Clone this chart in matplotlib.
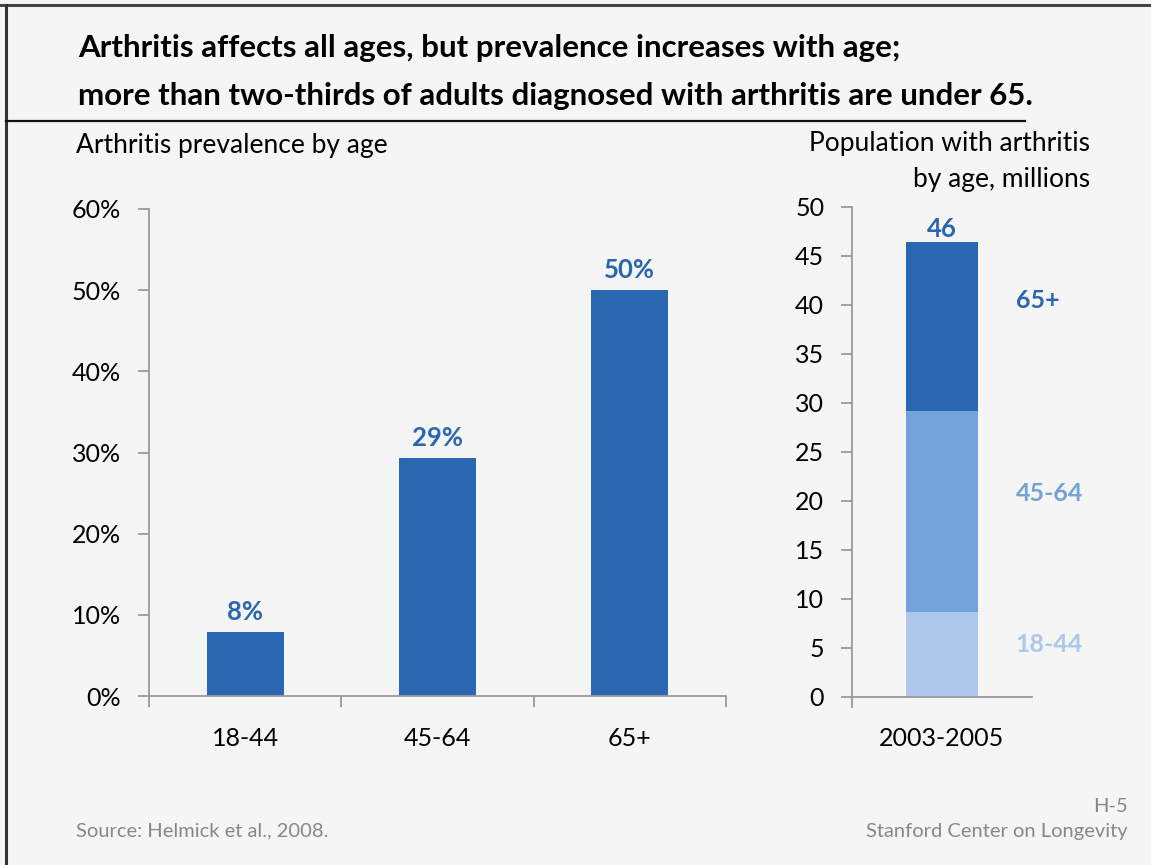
import matplotlib.pyplot as plt
from matplotlib.lines import Line2D

# prevalence by age group (left panel)
ages = ["18-44", "45-64", "65+"]
prevalence = [7.9, 29.3, 50.0]
prevalence_labels = ["8%", "29%", "50%"]

# population with arthritis, millions (right panel)
period = ["2003-2005"]
pop_18_44 = [8.6]
pop_45_64 = [20.6]
pop_65 = [17.2]
pop_total_label = "46"

BG = "#f5f5f5"
DARK = "#2b67b0"
MID = "#74a2da"
LIGHT = "#adc7eb"
AXIS = "#9a9a9a"
FOOT = "#888888"

plt.rcParams["font.family"] = ["Lato", "DejaVu Sans"]

fig = plt.figure(figsize=(11.51, 8.65), dpi=100, facecolor=BG)

# slide frame: top and left borders, title underline
fig.add_artist(Line2D([0, 1], [1 - 5 / 865] * 2, color="#444444", lw=2.2, transform=fig.transFigure))
fig.add_artist(Line2D([6 / 1151] * 2, [0, 1 - 5 / 865], color="#333333", lw=2.2, transform=fig.transFigure))
fig.add_artist(Line2D([6 / 1151, 1025 / 1151], [1 - 121 / 865] * 2, color="#111111", lw=1.6, transform=fig.transFigure))

fig.text(78 / 1151, 1 - 48 / 865, "Arthritis affects all ages, but prevalence increases with age;",
         fontsize=22.5, fontweight="bold", va="center", ha="left")
fig.text(78 / 1151, 1 - 96 / 865, "more than two-thirds of adults diagnosed with arthritis are under 65.",
         fontsize=22.5, fontweight="bold", va="center", ha="left")

fig.text(76 / 1151, 1 - 146 / 865, "Arthritis prevalence by age", fontsize=19, va="center", ha="left")
fig.text(1090 / 1151, 1 - 143 / 865, "Population with arthritis", fontsize=19, va="center", ha="right")
fig.text(1090 / 1151, 1 - 180 / 865, "by age, millions", fontsize=19, va="center", ha="right")

fig.text(76 / 1151, 1 - 831 / 865, "Source: Helmick et al., 2008.", fontsize=14.5, color=FOOT, va="center", ha="left")
fig.text(1128 / 1151, 1 - 806 / 865, "H-5", fontsize=14.5, color=FOOT, va="center", ha="right")
fig.text(1128 / 1151, 1 - 831 / 865, "Stanford Center on Longevity", fontsize=14.5, color=FOOT, va="center", ha="right")


def style_axis(ax):
    ax.set_facecolor(BG)
    for s in ["top", "right"]:
        ax.spines[s].set_visible(False)
    for s in ["left", "bottom"]:
        ax.spines[s].set_color(AXIS)
        ax.spines[s].set_linewidth(1.3)
    ax.tick_params(axis="both", colors=AXIS, width=1.3, length=8, labelsize=18, labelcolor="black")
    ax.tick_params(axis="y", pad=12)
    ax.tick_params(axis="x", pad=14)


# left panel
ax1 = fig.add_axes([149 / 1151, 1 - 696 / 865, 577 / 1151, 487 / 865])
style_axis(ax1)
x = range(len(ages))
ax1.bar(x, prevalence, width=0.4, color=DARK)
ax1.set_xlim(-0.5, len(ages) - 0.5)
ax1.set_ylim(0, 60)
ax1.set_yticks(range(0, 61, 10))
ax1.set_yticklabels([f"{v}%" for v in range(0, 61, 10)])
ax1.set_xticks([i - 0.5 for i in range(len(ages) + 1)])
ax1.set_xticklabels([])
ax1.set_xticks(list(x), minor=True)
ax1.set_xticklabels(ages, minor=True)
ax1.tick_params(axis="x", which="minor", length=0, labelsize=18, pad=22)
for i, v in enumerate(prevalence):
    ax1.annotate(prevalence_labels[i], (i, v), xytext=(0, 6), textcoords="offset points",
                 ha="center", va="bottom", fontsize=18.5, fontweight="bold", color=DARK)

# right panel
ax2 = fig.add_axes([852 / 1151, 1 - 696.5 / 865, 180 / 1151, 489.5 / 865])
style_axis(ax2)
ax2.bar(0, pop_18_44, width=0.4, color=LIGHT)
ax2.bar(0, pop_45_64, width=0.4, bottom=pop_18_44, color=MID)
top = [a + b for a, b in zip(pop_18_44, pop_45_64)]
ax2.bar(0, pop_65, width=0.4, bottom=top, color=DARK)
total = top[0] + pop_65[0]
ax2.annotate(pop_total_label, (0, total), xytext=(0, 1), textcoords="offset points",
             ha="center", va="bottom", fontsize=18.5, fontweight="bold", color=DARK)
ax2.set_xlim(-0.5, 0.5)
ax2.set_ylim(0, 50)
ax2.set_yticks(range(0, 51, 5))
ax2.set_xticks([-0.5])
ax2.set_xticklabels([])
ax2.set_xticks([0], minor=True)
ax2.set_xticklabels(period, minor=True)
ax2.tick_params(axis="x", which="minor", length=0, labelsize=18, pad=22)

# segment labels to the right of the stacked bar
ax2.text(0.41, pop_18_44[0] / 2 + 1, "18-44", fontsize=18, fontweight="bold", color=LIGHT, va="center", ha="left")
ax2.text(0.41, pop_18_44[0] + pop_45_64[0] / 2 + 1.8, "45-64", fontsize=18, fontweight="bold", color=MID, va="center", ha="left")
ax2.text(0.41, 40.5, "65+", fontsize=18, fontweight="bold", color=DARK, va="center", ha="left")

fig.savefig("out.png", dpi=100, facecolor=BG)
